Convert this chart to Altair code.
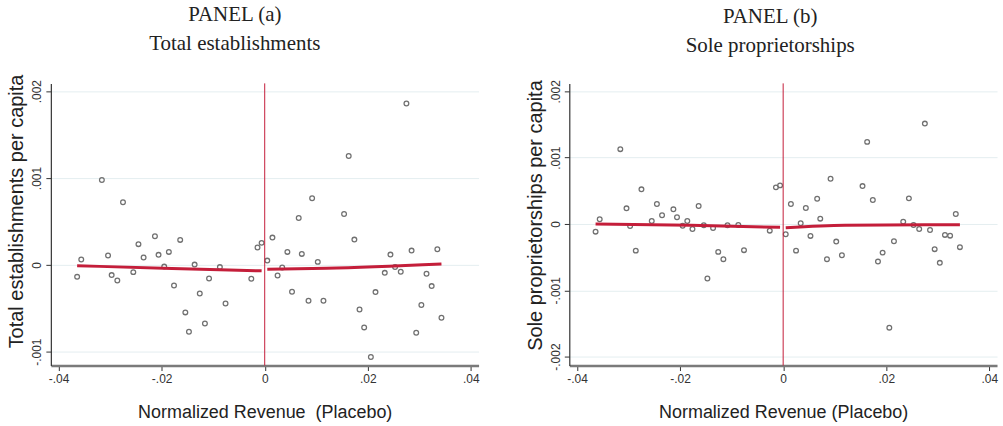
import altair as alt
import pandas as pd

# ---- data ----
x_bins = [-0.0364, -0.0356, -0.0316, -0.0304, -0.0297, -0.0286, -0.0275, -0.0255, -0.0245,
          -0.0235, -0.0213, -0.0206, -0.0195, -0.0186, -0.0176, -0.0164, -0.0154, -0.0147,
          -0.0136, -0.0126, -0.0116, -0.0108, -0.0087, -0.0076, -0.0026, -0.0014, -0.0006,
          0.0005, 0.0015, 0.0025, 0.0034, 0.0044, 0.0053, 0.0066, 0.0072, 0.0085, 0.0092,
          0.0103, 0.0114, 0.0154, 0.0163, 0.0174, 0.0184, 0.0193, 0.0206, 0.0215, 0.0233,
          0.0244, 0.0253, 0.0264, 0.0275, 0.0285, 0.0294, 0.0304, 0.0314, 0.0324, 0.0335, 0.0343]

est_y = [-0.000138, 0.000061, 0.000977, 0.000107, -0.000118, -0.000180, 0.000721, -0.000084,
         0.000238, 0.000084, 0.000330, 0.000115, -0.000020, 0.000149, -0.000238, 0.000287,
         -0.000548, -0.000770, 0.000003, -0.000330, -0.000675, -0.000157, -0.000026, -0.000445,
         -0.000161, 0.000199, 0.000253,
         0.000049, 0.000314, -0.000123, -0.000031, 0.000149, -0.000310, 0.000540, 0.000126,
         -0.000414, 0.000767, 0.000034, -0.000414, 0.000586, 0.001253, 0.000291, -0.000514,
         -0.000721, -0.001061, -0.000314, -0.000092, 0.000118, -0.000026, -0.000080, 0.001859,
         0.000164, -0.000782, -0.000463, -0.000103, -0.000245, 0.000180, -0.000609]

sole_y = [-0.000116, 0.000071, 0.001128, 0.000236, -0.000030, -0.000402, 0.000522, 0.000045,
          0.000301, 0.000131, 0.000221, 0.000101, -0.000026, 0.000045, -0.000075, 0.000271,
          -0.000020, -0.000823, -0.000060, -0.000421, -0.000531, -0.000020, -0.000015, -0.000395,
          -0.000101, 0.000552, 0.000582,
          -0.000155, 0.000301, -0.000402, 0.000011, 0.000241, -0.000180, 0.000380, 0.000080,
          -0.000531, 0.000681, -0.000266, -0.000471, 0.000571, 0.001238, 0.000361, -0.000567,
          -0.000432, -0.001564, -0.000260, 0.000035, 0.000386, -0.000015, -0.000075, 0.001514,
          -0.000090, -0.000380, -0.000586, -0.000165, -0.000176, 0.000150, -0.000350]

fit_left_x = [-0.0364, -0.018, -0.0006]
fit_right_x = [0.0005, 0.012, 0.0343]
est_fit_left_y = [-0.00001, -0.000042, -0.000069]
est_fit_right_y = [-0.00005, -0.00004, 0.00001]
sole_fit_left_y = [0.0, -0.00002, -0.00005]
sole_fit_right_y = [-0.000056, -0.00002, -0.00001]

x_tick_vals = [-0.04, -0.02, 0.0, 0.02, 0.04]
x_tick_labels = ["-.04", "-.02", "0", ".02", ".04"]
est_tick_vals = [-0.001, 0.0, 0.001, 0.002]
est_tick_labels = ["-.001", "0", ".001", ".002"]
sole_tick_vals = [-0.002, -0.001, 0.0, 0.001, 0.002]
sole_tick_labels = ["-.002", "-.001", "0", ".001", ".002"]

RED = "#c41e3a"
GRAY = "#707070"


def label_expr(vals, labels):
    expr = "''"
    for v, l in reversed(list(zip(vals, labels))):
        expr = f"abs(datum.value - ({v})) < 1e-9 ? '{l}' : ({expr})"
    return expr


def panel(ys, fl_y, fr_y, ydomain, yvals, ylabels, ytitle, title_lines, xtitle,
          title_dx, ytitle_y, title_offset):
    pts = pd.DataFrame({"x": x_bins, "y": ys})
    fit = pd.DataFrame({
        "x": fit_left_x + fit_right_x,
        "y": fl_y + fr_y,
        "seg": ["l"] * len(fit_left_x) + ["r"] * len(fit_right_x),
    })
    xscale = alt.Scale(domain=[-0.0415, 0.0415], nice=False, zero=False)
    yscale = alt.Scale(domain=ydomain, nice=False, zero=False)
    xaxis = alt.Axis(values=x_tick_vals, labelExpr=label_expr(x_tick_vals, x_tick_labels),
                     title=xtitle, grid=False, titleY=47, titleBaseline="middle",
                     domainColor="#7a7a7a", domainWidth=2.5, labelPadding=3)
    yaxis = alt.Axis(values=yvals, labelExpr=label_expr(yvals, ylabels), title=ytitle,
                     grid=True, gridColor="#e4eef0", gridWidth=1,
                     labelAngle=270, labelAlign="center", labelBaseline="bottom",
                     labelPadding=2, titleX=-34, titleY=ytitle_y, titleAngle=270,
                     titleBaseline="middle", titleAlign="center",
                     domainColor="#333333", domainWidth=1.2, titleFontSize=20)

    points = alt.Chart(pts).mark_point(filled=False, color=GRAY, size=22,
                                       strokeWidth=1.3, opacity=1).encode(
        x=alt.X("x:Q", scale=xscale, axis=xaxis),
        y=alt.Y("y:Q", scale=yscale, axis=yaxis),
    )
    vline = alt.Chart(pd.DataFrame({"x": [0.0]})).mark_rule(color=RED, strokeWidth=1).encode(
        x=alt.X("x:Q", scale=xscale)
    )
    lines = alt.Chart(fit).mark_line(color=RED, strokeWidth=3, interpolate="monotone").encode(
        x=alt.X("x:Q", scale=xscale),
        y=alt.Y("y:Q", scale=yscale),
        detail="seg:N",
    )
    return alt.layer(points, vline, lines).properties(
        width=429, height=283,
        title=alt.TitleParams(text=title_lines, font="Liberation Serif", fontSize=21,
                              fontWeight="normal", color="#222222", lineHeight=29,
                              anchor="middle", dx=title_dx, offset=title_offset,
                              frame="group"),
    )


left = panel(est_y, est_fit_left_y, est_fit_right_y, [-0.00116, 0.00209],
             est_tick_vals, est_tick_labels, "Total establishments per capita",
             ["PANEL (a)", "Total establishments"], "Normalized Revenue \u00a0(Placebo)",
             -30, 128, 20)
right = panel(sole_y, sole_fit_left_y, sole_fit_right_y, [-0.002135, 0.00212],
              sole_tick_vals, sole_tick_labels, "Sole proprietorships per capita",
              ["PANEL (b)", "Sole proprietorships"], "Normalized Revenue (Placebo)",
              -13, 132, 24)

chart = alt.hconcat(left, right, spacing=45).properties(
    padding={"left": 6, "top": 3, "right": 5, "bottom": 5},
    background="white",
).configure_view(stroke=None).configure_axis(
    labelFont="Liberation Sans", labelFontSize=12, labelColor="#333333",
    titleFont="Liberation Sans", titleFontSize=18, titleFontWeight="normal",
    titleColor="#222222", tickColor="#333333", tickSize=5, tickWidth=1,
)

chart.save("out.html", embed_options={"renderer": "svg", "actions": False})
